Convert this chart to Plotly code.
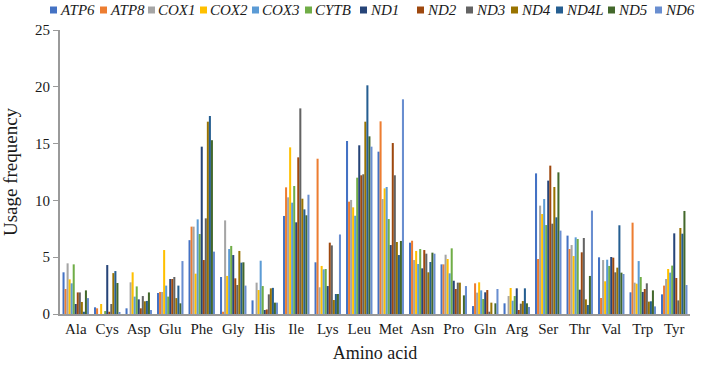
import plotly.graph_objects as go

categories = ["Ala", "Cys", "Asp", "Glu", "Phe", "Gly", "His", "Ile", "Lys", "Leu",
              "Met", "Asn", "Pro", "Gln", "Arg", "Ser", "Thr", "Val", "Trp", "Tyr"]

genes = ["ATP6", "ATP8", "COX1", "COX2", "COX3", "CYTB", "ND1", "ND2", "ND3",
         "ND4", "ND4L", "ND5", "ND6"]
colors = ["#4472C4", "#ED7D31", "#A5A5A5", "#FFC000", "#5B9BD5", "#70AD47",
          "#264478", "#9E480E", "#636363", "#997300", "#255E91", "#43682B", "#698ED0"]

ATP6 = [3.67, 0.59, 0.50, 1.85, 6.50, 3.26, 1.20, 8.63, 4.55, 15.23, 14.29, 6.28, 4.37, 0.70, 0.94, 12.38, 6.90, 4.99, 1.91, 1.73]
ATP8 = [2.20, 0.50, 0.00, 1.94, 7.69, 0.20, 0.00, 11.15, 13.67, 9.89, 16.96, 6.45, 4.37, 2.70, 0.00, 4.84, 5.72, 1.41, 8.04, 2.50]
COX1 = [4.46, 0.00, 2.79, 1.94, 7.69, 8.24, 2.76, 10.27, 2.35, 10.04, 10.12, 4.75, 5.22, 1.88, 1.58, 9.54, 6.07, 4.75, 2.76, 3.08]
COX2 = [3.05, 0.88, 3.67, 5.63, 3.55, 3.35, 2.11, 14.67, 4.23, 9.39, 11.06, 5.55, 4.84, 2.79, 2.29, 8.80, 5.10, 2.88, 2.67, 3.96]
COX3 = [2.70, 0.00, 1.53, 2.50, 8.33, 5.72, 4.69, 9.80, 3.93, 8.65, 11.18, 4.40, 3.58, 2.08, 1.17, 10.12, 6.75, 4.78, 4.66, 3.64]
CYTB = [4.37, 0.26, 2.43, 1.53, 7.04, 5.99, 2.46, 11.27, 3.96, 12.00, 8.36, 5.72, 5.78, 1.32, 1.58, 7.83, 6.60, 4.23, 3.26, 4.26]
ND1 = [0.88, 4.31, 1.29, 3.08, 14.73, 5.19, 0.35, 8.07, 2.46, 14.85, 6.07, 4.02, 2.93, 1.91, 2.26, 11.74, 2.14, 5.02, 1.94, 7.10]
ND2 = [1.90, 0.20, 0.50, 3.08, 4.75, 3.14, 0.40, 13.79, 6.28, 12.21, 15.05, 5.63, 2.20, 2.11, 0.35, 13.06, 5.43, 4.96, 2.20, 3.17]
ND3 = [1.90, 0.88, 1.58, 3.26, 8.42, 2.55, 1.73, 18.10, 6.04, 12.30, 12.21, 5.31, 2.76, 0.20, 0.91, 7.95, 6.69, 3.67, 2.70, 1.20]
ND4 = [1.06, 3.60, 1.12, 1.40, 16.93, 5.55, 2.26, 10.15, 1.23, 16.93, 6.34, 3.67, 2.76, 1.00, 1.14, 11.18, 1.29, 4.08, 1.09, 7.57]
ND4L = [0.20, 3.78, 1.15, 2.50, 17.43, 4.52, 2.30, 9.21, 1.76, 20.13, 5.19, 4.58, 0.00, 0.00, 2.26, 8.51, 0.79, 7.81, 1.12, 7.07]
ND5 = [2.08, 2.73, 1.90, 0.94, 15.30, 4.55, 1.00, 8.69, 1.76, 15.64, 6.43, 5.40, 1.64, 0.94, 0.94, 12.47, 3.35, 3.64, 2.08, 9.07]
ND6 = [1.40, 0.10, 0.35, 4.66, 5.49, 2.50, 1.00, 10.50, 7.00, 14.73, 18.90, 5.31, 2.46, 2.20, 0.62, 7.34, 9.10, 3.52, 0.67, 2.55]

series = [ATP6, ATP8, COX1, COX2, COX3, CYTB, ND1, ND2, ND3, ND4, ND4L, ND5, ND6]

# legend layout (pixel x of each legend swatch)
legend_px = [50, 100, 148, 200, 252, 305, 360, 417, 466, 511, 556, 608, 655]

W, H = 709, 370
ML, MR, MT, MB = 60, 19, 30, 56
PW, PH = W - ML - MR, H - MT - MB

font_family = "Liberation Serif"

fig = go.Figure()
for g, c, vals in zip(genes, colors, series):
    fig.add_trace(go.Bar(
        name=g, x=categories, y=vals,
        marker=dict(color=c, line=dict(width=0)),
    ))

def px_to_paper_x(px):
    return (px - ML) / PW

def py_to_paper_y(py):
    return (H - MB - py) / PH

sq = 7
leg_y = 10
for g, c, px in zip(genes, colors, legend_px):
    fig.add_shape(type="rect", xref="paper", yref="paper",
                  x0=px_to_paper_x(px), x1=px_to_paper_x(px + sq),
                  y0=py_to_paper_y(leg_y + sq / 2), y1=py_to_paper_y(leg_y - sq / 2),
                  fillcolor=c, line=dict(width=0))
    fig.add_annotation(xref="paper", yref="paper", x=px_to_paper_x(px + sq + 1),
                       y=py_to_paper_y(leg_y), xanchor="left", yanchor="middle",
                       text=f"<i>{g}</i>", showarrow=False,
                       font=dict(family=font_family, size=15, color="#1a1a1a"))

fig.update_layout(
    width=W, height=H,
    barmode="group", bargap=0.16, bargroupgap=0.0,
    plot_bgcolor="white", paper_bgcolor="white",
    margin=dict(l=ML, r=MR, t=MT, b=MB, autoexpand=False),
    font=dict(family=font_family, size=15, color="#1a1a1a"),
    showlegend=False,
    xaxis=dict(
        showline=True, linecolor="#9a9a9a", linewidth=2, ticks="", showgrid=False,
        tickfont=dict(family=font_family, size=15), automargin=False,
        title=dict(text="Amino acid", font=dict(family=font_family, size=18), standoff=10),
    ),
    yaxis=dict(
        range=[0, 25], dtick=5, showline=True, linecolor="#9a9a9a", linewidth=2,
        ticks="outside", ticklen=5, tickcolor="#9a9a9a", showgrid=False, zeroline=False,
        tickfont=dict(family=font_family, size=15), automargin=False,
        title=dict(text="Usage frequency", font=dict(family=font_family, size=19), standoff=12),
    ),
)

fig.write_html("out.html", config={"displayModeBar": False},
               post_script="document.body.style.margin='0';")
